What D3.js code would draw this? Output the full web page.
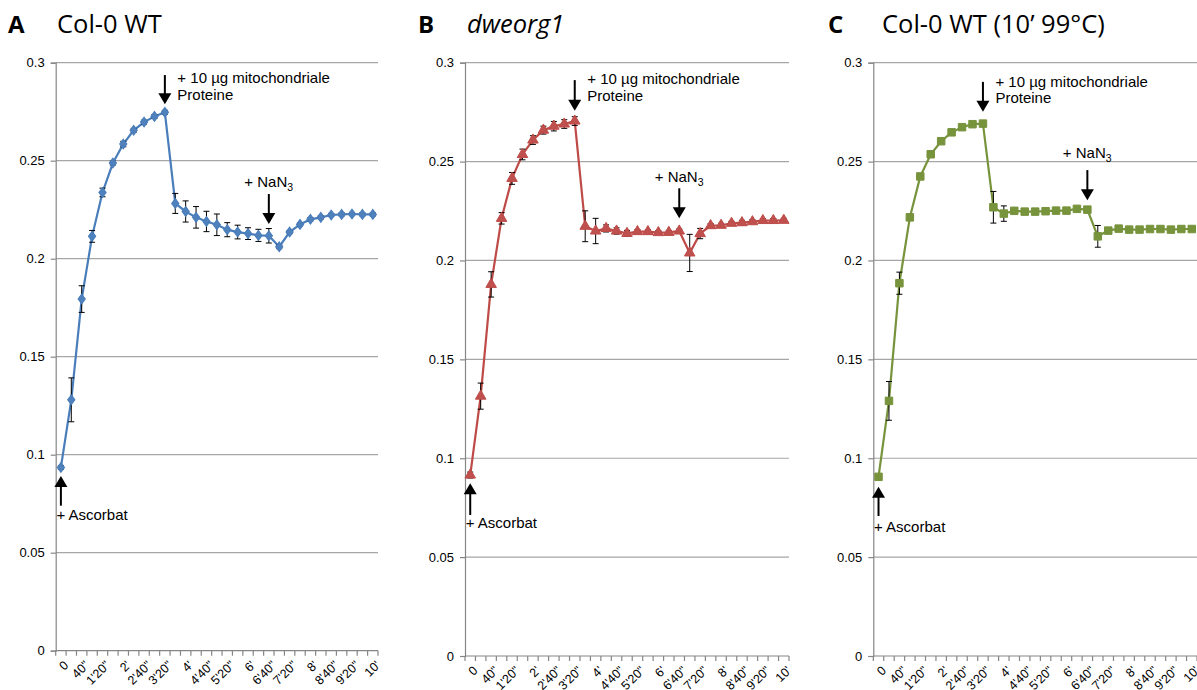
<!DOCTYPE html>
<html><head><meta charset="utf-8">
<script src="https://cdn.jsdelivr.net/npm/d3@7"></script>
<style>
body{margin:0;background:#fff;}
svg{display:block;}
</style></head>
<body>
<svg id="chart" width="1197" height="690"></svg>
<script>
// ---------- DATA ----------
const categories = ["0","20\"","40\"","1'","1'20\"","1'40\"","2'","2'20\"","2'40\"","3'","3'20\"","3'40\"","4'","4'20\"","4'40\"","5'","5'20\"","5'40\"","6'","6'20\"","6'40\"","7'","7'20\"","7'40\"","8'","8'20\"","8'40\"","9'","9'20\"","9'40\"","10'"];
const tickLabels = ["0","40\"","1'20\"","2'","2'40\"","3'20\"","4'","4'40\"","5'20\"","6'","6'40\"","7'20\"","8'","8'40\"","9'20\"","10'"];
const yTicks = [0,0.05,0.1,0.15,0.2,0.25,0.3];
const yTickLabels = ["0","0.05","0.1","0.15","0.2","0.25","0.3"];

const valuesA = [0.0935,0.128,0.1794,0.2114,0.2338,0.2488,0.2585,0.2655,0.2697,0.2726,0.2747,0.2282,0.2241,0.2211,0.2190,0.2173,0.2148,0.2136,0.2128,0.2119,0.2117,0.2061,0.2136,0.2175,0.2201,0.2211,0.2223,0.2226,0.2228,0.2226,0.2226];
const errorsA = [0.001,0.0112,0.0068,0.003,0.0022,0.001,0.0014,0.001,0.001,0.001,0.001,0.0051,0.0054,0.0055,0.0052,0.0055,0.0036,0.0035,0.003,0.0031,0.0037,0.001,0.0008,0.0008,0.0008,0.0008,0.0008,0.0008,0.0008,0.0008,0.0008];

const valuesB = [0.0915,0.1314,0.1879,0.2213,0.2415,0.2536,0.2609,0.2659,0.2679,0.2690,0.2705,0.2173,0.2149,0.2162,0.2149,0.2137,0.2146,0.2146,0.2141,0.2142,0.2149,0.2038,0.2136,0.2176,0.2178,0.2188,0.2191,0.2196,0.2202,0.2202,0.2203];
const errorsB = [0.0015,0.0066,0.0064,0.0029,0.003,0.0027,0.0022,0.002,0.0024,0.0022,0.0022,0.0078,0.0064,0.0018,0.0016,0.0015,0.001,0.001,0.001,0.001,0.001,0.0094,0.0026,0.001,0.001,0.001,0.0012,0.001,0.001,0.001,0.001];

const valuesC = [0.0906,0.129,0.1885,0.2218,0.2425,0.2537,0.2603,0.2648,0.2674,0.2689,0.2692,0.2269,0.2237,0.2251,0.2247,0.2247,0.2249,0.2252,0.2252,0.2261,0.2257,0.2122,0.2151,0.2161,0.2156,0.2156,0.2159,0.2159,0.2156,0.2159,0.2159];
const errorsC = [0.0008,0.0098,0.0056,0.0015,0.0008,0.0006,0.0006,0.0006,0.0006,0.0006,0.0006,0.008,0.0039,0.0006,0.0006,0.0006,0.0006,0.0006,0.0006,0.0006,0.0006,0.0055,0.0008,0.0006,0.0006,0.0006,0.0006,0.0006,0.0006,0.0006,0.0006];

const panelLetters = ["A","B","C"];
const panelTitles = ["Col-0 WT","dweorg1","Col-0 WT (10\u2019 99°C)"];

// annotations: [category, arrow top value, arrow tip value, text baseline value]
const annotProteine = [["3'20\"",0.2937,0.2788,0.2895],["3'20\"",0.2912,0.2757,0.2890],["3'20\"",0.2903,0.2752,0.2878]];
const annotNaN3 = [["6'40\"",0.2330,0.2177,0.2364],["6'40\"",0.2365,0.2213,0.2398],["6'40\"",0.2457,0.2305,0.2518]];
const annotAscorbat = [["0",0.0740,0.0891,0.0667],["0",0.0713,0.0873,0.0649],["0",0.0708,0.0856,0.0628]];

// ---------- LAYOUT ----------
const svg = d3.select("#chart");
const panels = [
  {x0:55.7, x1:378, top:62.7, bottom:650.7, color:"#4A7EBB", fill:"#4F81BD", marker:d3.symbolDiamond, msize:34, letterX:8, titleX:57, italic:false, values:valuesA, errors:errorsA},
  {x0:465, x1:789, top:62.7, bottom:656, color:"#BE4B48", fill:"#C0504D", marker:d3.symbolTriangle, msize:48, letterX:418, titleX:467, italic:true, values:valuesB, errors:errorsB},
  {x0:873.3, x1:1197, top:62.7, bottom:656, color:"#77933C", fill:"#77933C", marker:d3.symbolSquare, msize:56, letterX:828, titleX:882, italic:false, values:valuesC, errors:errorsC}
];

const FONT = "'Liberation Sans', Arial, sans-serif";
const TFONT = "'Open Sans', 'Noto Sans', sans-serif";

panels.forEach((p, pi) => {
  const g = svg.append("g");
  const x = d3.scaleBand().domain(categories).range([p.x0, p.x1]).padding(0);
  const cx = c => x(c) + x.bandwidth()/2;
  const y = d3.scaleLinear().domain([0,0.3]).range([p.bottom, p.top]);

  // title
  g.append("text").attr("x", p.letterX).attr("y", 33).attr("font-family",TFONT)
    .attr("font-weight","bold").attr("font-size", 24).attr("fill","#000").text(panelLetters[pi]);
  g.append("text").attr("x", p.titleX).attr("y", 33).attr("font-family",TFONT)
    .attr("font-style", p.italic ? "italic":"normal").attr("font-size", 25.5).attr("fill","#000").text(panelTitles[pi]);

  // gridlines
  g.append("g").selectAll("line").data(yTicks.filter(t=>t>0)).join("line")
    .attr("x1", p.x0).attr("x2", p.x1).attr("y1", d=>y(d)).attr("y2", d=>y(d))
    .attr("stroke","#A6A6A6").attr("stroke-width",1.2);

  // y axis
  const ya = g.append("g").attr("transform",`translate(${p.x0},0)`)
    .call(d3.axisLeft(y).tickValues(yTicks).tickFormat((d,i)=>yTickLabels[i]).tickSize(5).tickPadding(6));
  ya.select(".domain").attr("stroke","#868686").attr("stroke-width",1.2);
  ya.selectAll(".tick line").attr("stroke","#868686").attr("stroke-width",1.2);
  ya.selectAll("text").attr("font-family",FONT).attr("font-size",13).attr("fill","#000");

  // x axis: ticks at category boundaries
  const xa = g.append("g").attr("transform",`translate(0,${p.bottom})`);
  xa.append("line").attr("x1",p.x0).attr("x2",p.x1).attr("y1",0).attr("y2",0).attr("stroke","#868686").attr("stroke-width",1.2);
  const bounds = categories.map(c=>x(c)).concat([p.x1]);
  xa.selectAll("line.tk").data(bounds).join("line").attr("class","tk")
    .attr("x1",d=>d).attr("x2",d=>d).attr("y1",0).attr("y2",5).attr("stroke","#868686").attr("stroke-width",1.2);
  xa.selectAll("text").data(tickLabels).join("text")
    .attr("transform", d=>`translate(${cx(d)+2},${9}) rotate(-45)`)
    .attr("text-anchor","end").attr("dy","0.71em")
    .attr("font-family",FONT).attr("font-size",12.5).attr("fill","#000").text(d=>d);

  // series line
  const pts = categories.map((c,i)=>({c, v:p.values[i], e:p.errors[i]}));
  g.append("path").datum(pts)
    .attr("d", d3.line().x(d=>cx(d.c)).y(d=>y(d.v)))
    .attr("fill","none").attr("stroke",p.color).attr("stroke-width",2.2);

  // error bars
  const eb = g.append("g").attr("stroke","#000").attr("stroke-width",1);
  pts.forEach(d=>{
    const xx = cx(d.c), y1 = y(d.v+d.e), y2 = y(d.v-d.e);
    eb.append("line").attr("x1",xx).attr("x2",xx).attr("y1",y1).attr("y2",y2);
    eb.append("line").attr("x1",xx-3).attr("x2",xx+3).attr("y1",y1).attr("y2",y1);
    eb.append("line").attr("x1",xx-3).attr("x2",xx+3).attr("y1",y2).attr("y2",y2);
  });

  // markers
  g.append("g").selectAll("path").data(pts).join("path")
    .attr("transform", d=>`translate(${cx(d.c)},${y(d.v)}) ${p.marker===d3.symbolDiamond?"scale(1.15,0.9)":""}`)
    .attr("d", d3.symbol().type(p.marker).size(p.msize))
    .attr("fill",p.fill).attr("stroke",p.color).attr("stroke-width",1);

  // arrows
  function arrow(xx, yFrom, yTip){
    const dir = yTip > yFrom ? 1 : -1;
    const headLen = 11, headW = 6.5;
    g.append("line").attr("x1",xx).attr("x2",xx).attr("y1",yFrom).attr("y2",yTip - dir*headLen+dir*1)
      .attr("stroke","#000").attr("stroke-width",2);
    g.append("path").attr("d",`M${xx-headW},${yTip-dir*headLen} L${xx+headW},${yTip-dir*headLen} L${xx},${yTip} Z`).attr("fill","#000");
  }

  const ap = annotProteine[pi];
  const apx = cx(ap[0]);
  arrow(apx, y(ap[1]), y(ap[2]));
  const tp = g.append("text").attr("font-family",FONT).attr("font-size",15).attr("fill","#000");
  tp.append("tspan").attr("x",apx+12.5).attr("y",y(ap[3])).text("+ 10 µg mitochondriale");
  tp.append("tspan").attr("x",apx+12.5).attr("y",y(ap[3])+16.5).text("Proteine");

  const an = annotNaN3[pi];
  const anx = cx(an[0]);
  arrow(anx, y(an[1]), y(an[2]));
  const tn = g.append("text").attr("x",anx-24.5).attr("y",y(an[3])).attr("font-family",FONT).attr("font-size",15).attr("fill","#000");
  tn.append("tspan").text("+ NaN");
  tn.append("tspan").attr("font-size",10.5).attr("dy",4).text("3");

  const aa = annotAscorbat[pi];
  const aax = cx(aa[0]);
  arrow(aax, y(aa[1]), y(aa[2]));
  g.append("text").attr("x",aax-4.5).attr("y",y(aa[3])).attr("font-family",FONT).attr("font-size",15).attr("fill","#000").text("+ Ascorbat");
});
</script>
</body></html>
